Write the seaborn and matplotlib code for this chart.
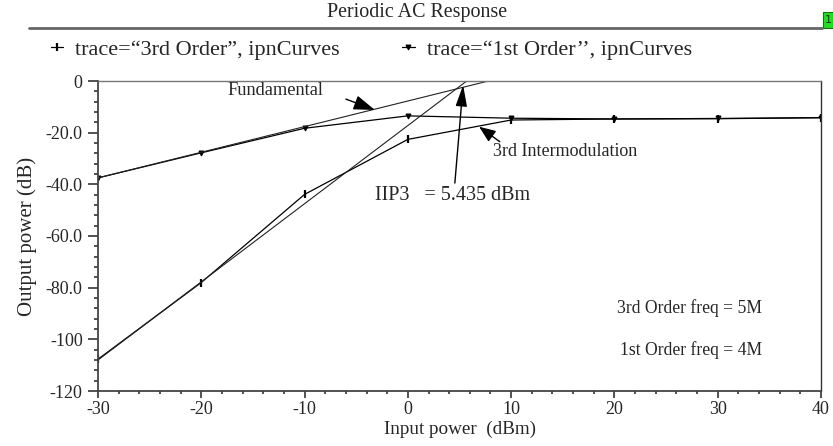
import matplotlib
matplotlib.use("Agg")
import matplotlib.pyplot as plt
from matplotlib.lines import Line2D
from matplotlib.patches import Rectangle
from matplotlib.ticker import MultipleLocator, FixedLocator
import seaborn as sns
import pandas as pd

# ---- data ----
input_power = [-30, -20, -10, 0, 10, 20, 30, 40]
third_order = [-107.7, -78.0, -43.9, -22.6, -15.1, -14.7, -14.6, -14.2]
first_order = [-37.5, -27.8, -18.3, -13.5, -14.4, -14.7, -14.5, -14.2]
fund_extrap_x = [-30, 7.8]
fund_extrap_y = [-37.5, 0.0]
im3_extrap_x = [-30, 5.7]
im3_extrap_y = [-108.0, 0.0]
x_ticks = [-30, -20, -10, 0, 10, 20, 30, 40]
y_ticks = [0, -20, -40, -60, -80, -100, -120]
y_tick_labels = ["0", "-20.0", "-40.0", "-60.0", "-80.0", "-100", "-120"]
legend_labels = ["trace=\u201c3rd Order\u201d, ipnCurves", "trace=\u201c1st Order\u2019\u2019, ipnCurves"]

sns.set_style("white")
plt.rcParams["font.family"] = ["Liberation Serif", "DejaVu Serif"]
plt.rcParams["axes.unicode_minus"] = False

W, H = 833, 446
fig = plt.figure(figsize=(W / 100, H / 100), dpi=100)
ax = fig.add_axes([98 / W, 1 - 391 / H, (821 - 98) / W, (391 - 81) / H])

df = pd.DataFrame({
    "x": input_power * 2,
    "y": third_order + first_order,
    "trace": [legend_labels[0]] * len(input_power) + [legend_labels[1]] * len(input_power),
})

m3 = dict(marker="|", markersize=6, markeredgewidth=1.6, markeredgecolor="black")
m1 = dict(marker="v", markersize=3.5, markeredgewidth=0.8, markeredgecolor="black", markerfacecolor="black")
sns.lineplot(data=df[df.trace == legend_labels[0]], x="x", y="y", ax=ax, color="black",
             linewidth=0.9, legend=False, **m3)
sns.lineplot(data=df[df.trace == legend_labels[1]], x="x", y="y", ax=ax, color="black",
             linewidth=0.9, legend=False, **m1)
sns.lineplot(x=fund_extrap_x, y=fund_extrap_y, ax=ax, color="#222222", linewidth=0.8, legend=False)
sns.lineplot(x=im3_extrap_x, y=im3_extrap_y, ax=ax, color="#222222", linewidth=0.8, legend=False)

ax.set_xlim(-30, 40)
ax.set_ylim(-120, 0)
ax.xaxis.set_major_locator(FixedLocator(x_ticks))
ax.xaxis.set_minor_locator(MultipleLocator(2))
ax.yaxis.set_major_locator(FixedLocator(y_ticks))
ax.yaxis.set_minor_locator(MultipleLocator(4))
ax.set_yticklabels(y_tick_labels)
ax.tick_params(axis="both", which="both", direction="out", color="#333333", bottom=True, left=True)
ax.tick_params(axis="x", which="major", length=5, width=1.2, labelsize=13, pad=2)
ax.tick_params(axis="x", which="minor", length=2.5, width=1.2)
ax.tick_params(axis="y", which="major", length=7, width=1.2, labelsize=13, pad=4)
ax.tick_params(axis="y", which="minor", length=3, width=1.2)
for s in ["left", "bottom"]:
    ax.spines[s].set_color("#444444")
    ax.spines[s].set_linewidth(1.3)
ax.spines["top"].set_color("#777777")
ax.spines["top"].set_linewidth(1.0)
ax.spines["right"].set_color("#333333")
ax.spines["right"].set_linewidth(1.0)
ax.set_xlabel("Input power  (dBm)", fontsize=13.8, labelpad=2)
ax.set_ylabel("Output power (dB)", fontsize=15, labelpad=6)

# annotations
ax.text(-12.8, -3.8, "Fundamental", fontsize=13.2, ha="center", va="center")
ax.annotate("", xy=(-3.2, -11.2), xytext=(-6.0, -7.0),
            arrowprops=dict(arrowstyle="-|>,head_length=1.3,head_width=0.45", color="black",
                            lw=1.0, shrinkA=0, shrinkB=0))
ax.text(-3.2, -44.5, "IIP3   = 5.435 dBm", fontsize=14.5, ha="left", va="center")
ax.annotate("", xy=(5.35, -1.6), xytext=(4.55, -39.5),
            arrowprops=dict(arrowstyle="-|>,head_length=1.3,head_width=0.35", color="black",
                            lw=1.0, shrinkA=0, shrinkB=0))
ax.text(8.2, -27.4, "3rd Intermodulation", fontsize=13, ha="left", va="center")
ax.annotate("", xy=(6.9, -17.7), xytext=(8.9, -23.5),
            arrowprops=dict(arrowstyle="-|>,head_length=1.0,head_width=0.4", color="black",
                            lw=1.0, shrinkA=0, shrinkB=0))
ax.text(34.3, -88.0, "3rd Order freq = 5M", fontsize=12.7, ha="right", va="center")
ax.text(34.3, -104.2, "1st Order freq = 4M", fontsize=12.7, ha="right", va="center")

# title and separator
fig.text(417 / W, 1 - 12 / H, "Periodic AC Response", fontsize=14.4, ha="center", va="center")
fig.add_artist(Line2D([29 / W, 822 / W], [1 - 28 / H, 1 - 28 / H], color="#666666", lw=2))
fig.add_artist(Rectangle((823 / W, 1 - 28 / H), 10 / W, 16 / H, facecolor="#22dd22",
                         edgecolor="#117711", lw=0.8))
fig.text(828.5 / W, 1 - 20 / H, "1", fontsize=8, ha="center", va="center", family="DejaVu Sans")

# legend
handles = [Line2D([], [], color="black", lw=0.9, **m3),
           Line2D([], [], color="black", lw=0.9, **m1)]
fig.legend(handles, legend_labels, loc="center left", bbox_to_anchor=(51 / W, 1 - 50 / H),
           ncol=2, frameon=False, fontsize=16, handlelength=0.55, handletextpad=0.55,
           columnspacing=2.8, borderaxespad=0, borderpad=0)

fig.savefig("out.png", dpi=100)
